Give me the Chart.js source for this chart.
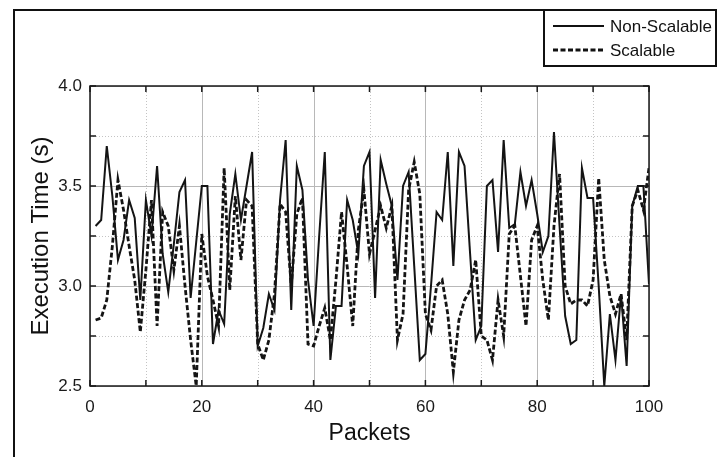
<!DOCTYPE html>
<html>
<head>
<meta charset="utf-8">
<title>Execution Time vs Packets</title>
<script src="https://cdn.jsdelivr.net/npm/chart.js@4.4.1/dist/chart.umd.min.js"></script>
<style>
  html, body { margin: 0; padding: 0; background: #fff; }
  #wrap { width: 717px; height: 457px; }
</style>
</head>
<body>
<div id="wrap"><canvas id="execChart" width="717" height="457"></canvas></div>
<script>
// ── Data (packets 1..100) ──────────────────────────────────────
const seriesNames = ['Non-Scalable', 'Scalable'];

const nonScalable = [
  3.30, 3.33, 3.70, 3.45, 3.13, 3.23, 3.43, 3.34, 2.93, 3.43,
  3.25, 3.60, 3.16, 2.97, 3.21, 3.47, 3.53, 2.94, 3.22, 3.50,
  3.50, 2.71, 2.88, 2.81, 3.36, 3.56, 3.33, 3.50, 3.67, 2.70,
  2.79, 2.96, 2.88, 3.43, 3.73, 2.88, 3.60, 3.48, 3.03, 2.80,
  3.25, 3.67, 2.63, 2.90, 2.90, 3.43, 3.33, 3.16, 3.60, 3.67,
  2.94, 3.63, 3.51, 3.40, 3.03, 3.50, 3.57, 3.10, 2.63, 2.66,
  3.00, 3.37, 3.33, 3.67, 3.10, 3.67, 3.60, 3.16, 2.73, 2.80,
  3.50, 3.53, 3.17, 3.73, 3.29, 3.31, 3.57, 3.40, 3.53, 3.36,
  3.17, 3.25, 3.77, 3.30, 2.85, 2.71, 2.73, 3.59, 3.44, 3.44,
  3.00, 2.50, 2.86, 2.63, 2.96, 2.60, 3.40, 3.50, 3.50, 3.01
];

const scalable = [
  2.83, 2.84, 2.93, 3.20, 3.53, 3.38, 3.20, 3.03, 2.77, 3.08,
  3.43, 2.80, 3.37, 3.30, 3.08, 3.30, 3.00, 2.73, 2.50, 3.26,
  3.05, 2.93, 2.80, 3.59, 2.98, 3.45, 3.13, 3.43, 3.40, 2.71,
  2.63, 2.73, 2.96, 3.41, 3.37, 3.00, 3.36, 3.44, 2.71, 2.70,
  2.80, 2.89, 2.73, 3.03, 3.37, 3.10, 2.80, 3.28, 3.48, 3.16,
  3.28, 3.40, 3.29, 3.40, 2.73, 2.86, 3.48, 3.62, 3.46, 2.86,
  2.78, 3.00, 3.03, 2.86, 2.57, 2.83, 2.93, 2.98, 3.13, 2.75,
  2.73, 2.63, 2.93, 2.75, 3.26, 3.30, 3.05, 2.80, 3.23, 3.30,
  3.03, 2.83, 3.30, 3.56, 3.00, 2.91, 2.93, 2.93, 2.90, 3.03,
  3.54, 3.13, 2.95, 2.86, 2.96, 2.73, 3.40, 3.48, 3.38, 3.59
];

const xTicks      = [0, 20, 40, 60, 80, 100];
const xMinorTicks = [10, 30, 50, 70, 90];
const yTicks      = [2.5, 3.0, 3.5, 4.0];
const yMinorTicks = [2.75, 3.25, 3.75];

const FONT = 'Liberation Sans, Arial, Helvetica, sans-serif';

// ── Frame, grid, inward ticks and boxed legend (MATLAB look) ──
const matlabFrame = {
  id: 'matlabFrame',
  beforeDatasetsDraw(chart) {
    const { ctx, chartArea: a, scales: { x, y } } = chart;
    ctx.save();
    ctx.lineWidth = 1;
    // minor grid: dotted
    ctx.strokeStyle = '#c4c4c4';
    ctx.setLineDash([1, 2]);
    xMinorTicks.forEach(v => {
      const px = Math.round(x.getPixelForValue(v)) + 0.5;
      ctx.beginPath(); ctx.moveTo(px, a.top); ctx.lineTo(px, a.bottom); ctx.stroke();
    });
    yMinorTicks.forEach(v => {
      const py = Math.round(y.getPixelForValue(v)) + 0.5;
      ctx.beginPath(); ctx.moveTo(a.left, py); ctx.lineTo(a.right, py); ctx.stroke();
    });
    // major grid: solid
    ctx.setLineDash([]);
    ctx.strokeStyle = '#b8b8b8';
    xTicks.forEach(v => {
      const px = Math.round(x.getPixelForValue(v)) + 0.5;
      ctx.beginPath(); ctx.moveTo(px, a.top); ctx.lineTo(px, a.bottom); ctx.stroke();
    });
    yTicks.forEach(v => {
      const py = Math.round(y.getPixelForValue(v)) + 0.5;
      ctx.beginPath(); ctx.moveTo(a.left, py); ctx.lineTo(a.right, py); ctx.stroke();
    });
    ctx.restore();
  },
  afterDatasetsDraw(chart) {
    const { ctx, chartArea: a, scales: { x, y } } = chart;
    ctx.save();
    ctx.strokeStyle = '#1a1a1a';
    ctx.lineWidth = 1.5;
    ctx.strokeRect(a.left, a.top, a.right - a.left, a.bottom - a.top);
    const t = 6;
    xTicks.concat(xMinorTicks).forEach(v => {
      const px = x.getPixelForValue(v);
      ctx.beginPath();
      ctx.moveTo(px, a.bottom); ctx.lineTo(px, a.bottom - t);
      ctx.moveTo(px, a.top);    ctx.lineTo(px, a.top + t);
      ctx.stroke();
    });
    yTicks.concat(yMinorTicks).forEach(v => {
      const py = y.getPixelForValue(v);
      ctx.beginPath();
      ctx.moveTo(a.left, py);  ctx.lineTo(a.left + t, py);
      ctx.moveTo(a.right, py); ctx.lineTo(a.right - t, py);
      ctx.stroke();
    });
    ctx.restore();
  },
  afterDraw(chart) {
    const { ctx } = chart;
    ctx.save();
    // outer figure frame (top + left edges)
    ctx.strokeStyle = '#111';
    ctx.lineWidth = 2;
    ctx.beginPath();
    ctx.moveTo(14, 457); ctx.lineTo(14, 10); ctx.lineTo(717, 10);
    ctx.stroke();
    // legend box
    ctx.strokeRect(544, 10, 172, 56);
    const rows = [{ y: 26, dash: [], w: 2 }, { y: 50, dash: [5, 2.5], w: 2.8 }];
    rows.forEach((r, i) => {
      ctx.setLineDash(r.dash);
      ctx.lineWidth = r.w;
      ctx.beginPath(); ctx.moveTo(553, r.y); ctx.lineTo(604, r.y); ctx.stroke();
      ctx.setLineDash([]);
      ctx.fillStyle = '#111';
      ctx.font = '17px ' + FONT;
      ctx.textBaseline = 'middle';
      ctx.textAlign = 'left';
      ctx.fillText(chart.data.datasets[i].label, 610, r.y + 1);
    });
    ctx.restore();
  }
};

const whiteBg = {
  id: 'whiteBg',
  beforeDraw(chart) {
    const { ctx, width, height } = chart;
    ctx.save();
    ctx.fillStyle = '#fff';
    ctx.fillRect(0, 0, width, height);
    ctx.restore();
  }
};

new Chart(document.getElementById('execChart'), {
  type: 'line',
  data: {
    datasets: [
      {
        label: seriesNames[0],
        data: nonScalable.map((v, i) => ({ x: i + 1, y: v })),
        borderColor: '#141414',
        borderWidth: 2,
        pointRadius: 0,
        tension: 0,
        fill: false,
      },
      {
        label: seriesNames[1],
        data: scalable.map((v, i) => ({ x: i + 1, y: v })),
        borderColor: '#141414',
        borderWidth: 2.8,
        borderDash: [5, 2.5],
        pointRadius: 0,
        tension: 0,
        fill: false,
      },
    ],
  },
  options: {
    responsive: false,
    animation: false,
    devicePixelRatio: 1,
    layout: { padding: { left: 0, top: 86, right: 68, bottom: 0 } },
    plugins: {
      legend: { display: false },
      tooltip: { enabled: false },
    },
    scales: {
      x: {
        type: 'linear',
        min: 0,
        max: 100,
        afterFit(scale) { scale.height = 71; },
        afterBuildTicks(scale) { scale.ticks = xTicks.map(v => ({ value: v })); },
        grid: { display: false, drawTicks: false },
        border: { display: false },
        ticks: {
          color: '#1a1a1a',
          padding: 11,
          maxRotation: 0,
          font: { family: FONT, size: 17 },
        },
        title: {
          display: true,
          text: 'Packets',
          color: '#111',
          font: { family: FONT, size: 23 },
          padding: { top: 0, bottom: 10 },
        },
      },
      y: {
        min: 2.5,
        max: 4.0,
        afterFit(scale) { scale.width = 90; },
        afterBuildTicks(scale) { scale.ticks = yTicks.map(v => ({ value: v })); },
        grid: { display: false, drawTicks: false },
        border: { display: false },
        ticks: {
          color: '#1a1a1a',
          padding: 8,
          font: { family: FONT, size: 17 },
          callback: v => Number(v).toFixed(1),
        },
        title: {
          display: true,
          text: 'Execution Time (s)',
          color: '#111',
          font: { family: FONT, size: 24 },
          padding: { top: 27, bottom: 0 },
        },
      },
    },
  },
  plugins: [whiteBg, matlabFrame],
});
</script>
</body>
</html>
